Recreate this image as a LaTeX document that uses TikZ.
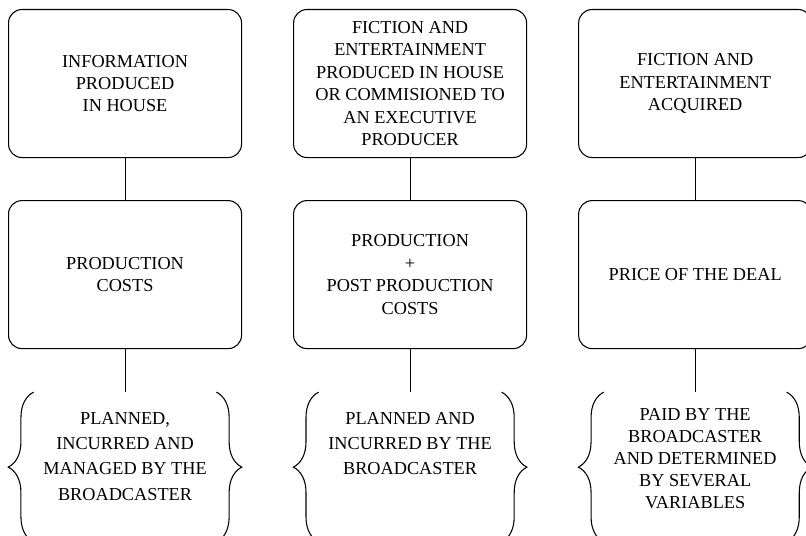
\documentclass[tikz,border=0pt]{standalone}
\usepackage{fontspec}
\setmainfont{Liberation Serif}
\usetikzlibrary{positioning,decorations.pathreplacing}

\begin{document}
\begin{tikzpicture}[box/.style={draw, rounded corners=10pt, line width=0.8pt, minimum width=174.75pt, minimum height=111pt, align=center, inner sep=2pt, font=\fontsize{13.7}{16.8}\selectfont},
  note/.style={minimum width=174.75pt, inner xsep=0pt, inner ysep=15pt, align=center, font=\fontsize{13.7}{18.9}\selectfont},
  lbrace/.style={decorate, line width=0.8pt, decoration={brace, amplitude=19pt}},
  node distance=31.5pt and 38.25pt]
  \useasboundingbox (0,0) rectangle (604.5pt,-401.25pt);

  \node[box, anchor=north west] (a1) at (6pt,-6.75pt) {INFORMATION\\PRODUCED\\IN HOUSE};
  \node[box, right=of a1] (a2) {FICTION AND\\ENTERTAINMENT\\PRODUCED IN HOUSE\\OR COMMISIONED TO\\AN EXECUTIVE\\PRODUCER};
  \node[box, right=of a2] (a3) {FICTION AND\\ENTERTAINMENT\\ACQUIRED};

  \node[box, below=of a1] (b1) {PRODUCTION\\COSTS};
  \node[box, below=of a2] (b2) {PRODUCTION\\+\\POST PRODUCTION\\COSTS};
  \node[box, below=of a3] (b3) {PRICE OF THE DEAL};

  \node[note, below=32.25pt of b1] (c1) {PLANNED,\\INCURRED AND\\MANAGED BY THE\\BROADCASTER};
  \node[note, below=32.25pt of b2] (c2) {PLANNED AND\\INCURRED BY THE\\BROADCASTER};
  \node[note, below=32.25pt of b3, font=\fontsize{13.7}{16.5}\selectfont, inner ysep=12pt] (c3) {PAID BY THE\\BROADCASTER\\AND DETERMINED\\BY SEVERAL\\VARIABLES};

  \draw[line width=0.8pt] (a1) -- (b1);
  \draw[line width=0.8pt] (a2) -- (b2);
  \draw[line width=0.8pt] (a3) -- (b3);
  \draw[line width=0.8pt] (b1) -- (c1);
  \draw[line width=0.8pt] (b2) -- (c2);
  \draw[line width=0.8pt] (b3) -- (c3);

  \draw[lbrace] ([xshift=19pt,yshift=-112.5pt]c1.north west) -- ([xshift=19pt]c1.north west);
  \draw[lbrace] ([xshift=-19pt]c1.north east) -- ([xshift=-19pt,yshift=-112.5pt]c1.north east);
  \draw[lbrace] ([xshift=19pt,yshift=-112.5pt]c2.north west) -- ([xshift=19pt]c2.north west);
  \draw[lbrace] ([xshift=-19pt]c2.north east) -- ([xshift=-19pt,yshift=-112.5pt]c2.north east);
  \draw[lbrace] ([xshift=19pt,yshift=-112.5pt]c3.north west) -- ([xshift=19pt]c3.north west);
  \draw[lbrace] ([xshift=-19pt]c3.north east) -- ([xshift=-19pt,yshift=-112.5pt]c3.north east);
\end{tikzpicture}
\end{document}
